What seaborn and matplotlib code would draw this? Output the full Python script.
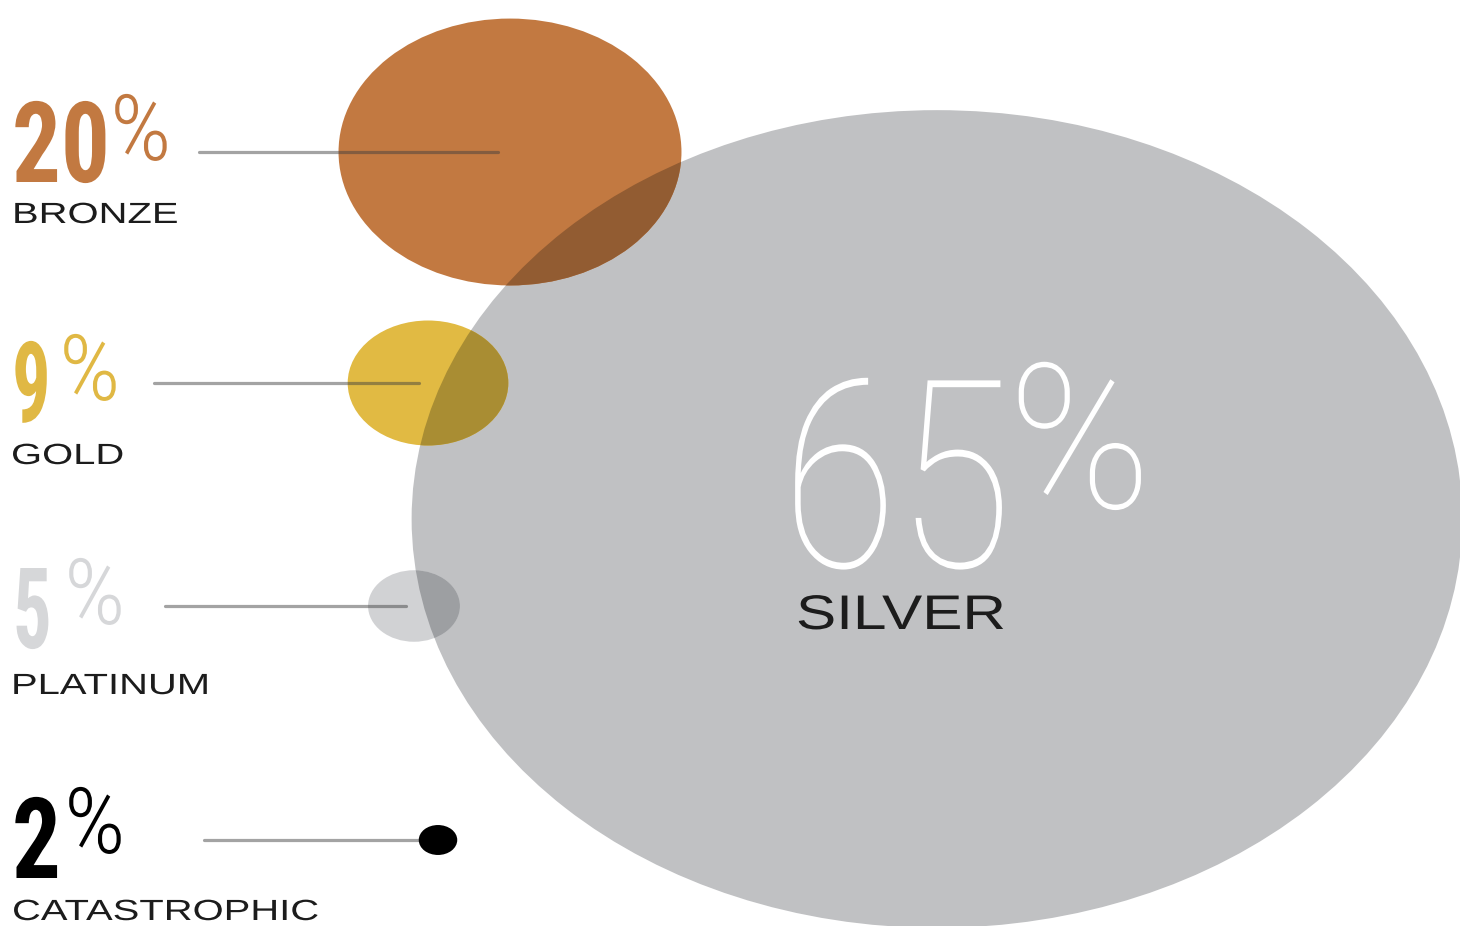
import numpy as np
import matplotlib
matplotlib.use("Agg")
import matplotlib.pyplot as plt
import seaborn as sns
from matplotlib.patches import Ellipse
from matplotlib.patheffects import AbstractPathEffect
from matplotlib.transforms import Affine2D
from matplotlib.colors import to_rgb, to_hex

# ---- data -------------------------------------------------------------
tiers = ["BRONZE", "GOLD", "PLATINUM", "CATASTROPHIC", "SILVER"]
shares = [20, 9, 5, 2, 65]

# ---- styling / layout -------------------------------------------------
fill_colors = ["#C27941", "#E1BA43", "#D1D2D4", "#000000", "#C0C1C3"]
number_colors = ["#C27941", "#E0B844", "#D6D7D9", "#000000", "#FFFFFF"]
label_color = "#1c1c1c"

# bubble centres (pixel space) and connector geometry
centers = [(510, 152), (428, 383), (414, 606), (438, 840), (937, 519)]
connector_start = [199, 154, 165, 204, None]
connector_end = [498, 419, 406, 438, None]

# text anchors (left edge, baseline) and horizontal glyph scaling
num_pos = [(12, 182), (12, 422), (13, 648), (12, 878), (782, 567)]
num_sx = [0.86, 0.68, 0.68, 0.86, 0.80]
pct_pos = [(110, 160), (59, 400), (64, 624), (64, 853), (1008, 508)]
lab_pos = [(12, 223), (11, 464), (11, 694), (12, 920), (796, 629)]
lab_sx = [1.37, 1.37, 1.37, 1.37, 1.24]

STRETCH = 1.285               # horizontal stretch of the whole graphic
SIZE_K, SIZE_P = 15.5, 0.95   # bubble height = K * share ** P (pixels)

W, H = 1460, 926


class StretchX(AbstractPathEffect):
    """Draw text glyphs scaled horizontally about the start of the line."""

    def __init__(self, sx):
        super().__init__()
        self._sx = sx

    def draw_path(self, renderer, gc, tpath, affine, rgbFace=None):
        renderer.draw_path(gc, tpath, Affine2D().scale(self._sx, 1.0) + affine, rgbFace)


sns.set_theme(style="white")
plt.rcParams["font.family"] = ["Liberation Sans", "DejaVu Sans"]

fig = plt.figure(figsize=(W / 100, H / 100), dpi=100)
ax = fig.add_axes([0, 0, 1, 1])
ax.set_xlim(0, W)
ax.set_ylim(H, 0)
ax.axis("off")


def bubble(i, **kw):
    d = SIZE_K * shares[i] ** SIZE_P
    cx, cy = centers[i]
    return Ellipse((cx, cy), width=d * STRETCH, height=d, linewidth=0, **kw)


# big silver bubble at the back
big = bubble(4, facecolor=fill_colors[4], zorder=1)
ax.add_patch(big)

# smaller bubbles, with a multiply-style tint where they sit on silver
for i in range(4):
    ax.add_patch(bubble(i, facecolor=fill_colors[i], zorder=2 if i < 3 else 5))
    if i < 3:
        mixed = np.array(to_rgb(fill_colors[i])) * np.array(to_rgb(fill_colors[4]))
        over = bubble(i, facecolor=to_hex(mixed), zorder=3)
        ax.add_patch(over)
        over.set_clip_path(big)

# connector lines
for i in range(4):
    y = centers[i][1]
    sns.lineplot(x=[connector_start[i], connector_end[i]], y=[y, y], ax=ax,
                 color="#3d3d3d", alpha=0.47, linewidth=2.3, sort=False, zorder=4)

# percentages and tier names
num_font = dict(family="Roboto Condensed", weight="bold", size=81)
pct_font = dict(family="Roboto Condensed", weight="light", size=66)
lab_font = dict(family="Liberation Sans", weight="normal", size=21)

for i in range(5):
    nx, ny = num_pos[i]
    px, py = pct_pos[i]
    lx, ly = lab_pos[i]
    if i < 4:
        ax.text(nx, ny, f"{shares[i]}", color=number_colors[i], ha="left", va="baseline",
                path_effects=[StretchX(num_sx[i])], zorder=6, **num_font)
        ax.text(px, py, "%", color=number_colors[i], ha="left", va="baseline",
                path_effects=[StretchX(1.05)], zorder=6, **pct_font)
        ax.text(lx, ly, tiers[i], color=label_color, ha="left", va="baseline",
                path_effects=[StretchX(lab_sx[i])], zorder=6, **lab_font)
    else:
        ax.text(nx, ny, f"{shares[i]}", color=number_colors[i], ha="left", va="baseline",
                family="Roboto", weight=250, size=189,
                path_effects=[StretchX(num_sx[i])], zorder=6)
        ax.text(px, py, "%", color=number_colors[i], ha="left", va="baseline",
                family="Roboto", weight=250, size=146,
                path_effects=[StretchX(0.95)], zorder=6)
        ax.text(lx, ly, tiers[i], color=label_color, ha="left", va="baseline",
                family="Liberation Sans", size=35,
                path_effects=[StretchX(lab_sx[i])], zorder=6)

fig.savefig("out.png", dpi=100, facecolor="white")
